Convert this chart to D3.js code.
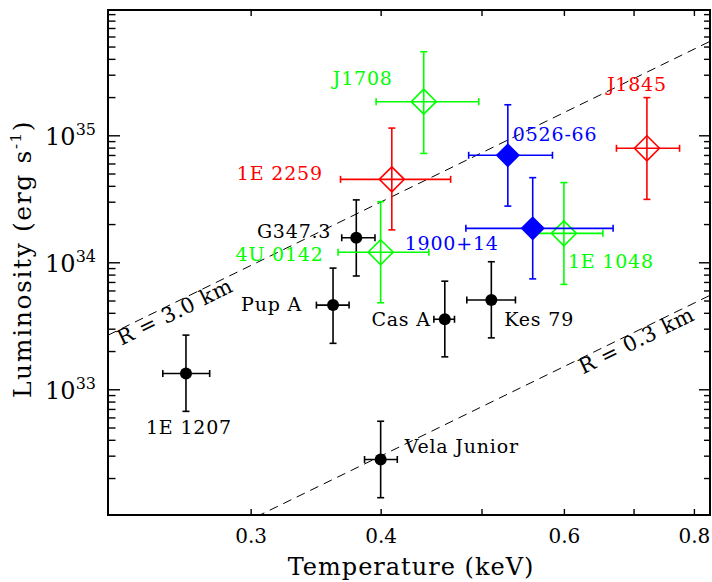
<!DOCTYPE html>
<html>
<head>
<meta charset="utf-8">
<script src="https://cdn.jsdelivr.net/npm/d3@7"></script>
<style>
  body { margin: 0; background: #fff; }
  text { font-family: "DejaVu Serif", serif; }
</style>
</head>
<body>
<div id="container"></div>
<script>
//sources, black ones (CCOs) first, blue (SGRs) last so they sit on top
const names  = ['1E 1207', 'Pup A', 'G347.3', 'Cas A', 'Kes 79', 'Vela Junior',
                '4U 0142', '1E 2259', 'J1708', '1E 1048', 'J1845', '0526-66', '1900+14']
const group  = ['cco', 'cco', 'cco', 'cco', 'cco', 'cco',
                'axpG', 'axpR', 'axpG', 'axpG', 'axpR', 'sgr', 'sgr']

//temperature (keV) with error range
const temp   = [0.260, 0.360, 0.379, 0.461, 0.511, 0.400, 0.400, 0.410, 0.440, 0.600, 0.721, 0.530, 0.560]
const tempLo = [0.247, 0.347, 0.367, 0.450, 0.484, 0.386, 0.364, 0.366, 0.396, 0.562, 0.674, 0.486, 0.483]
const tempHi = [0.274, 0.373, 0.395, 0.471, 0.539, 0.415, 0.445, 0.467, 0.497, 0.654, 0.775, 0.585, 0.669]

//luminosity (erg/s) with error range
const lum    = [1.33e33, 4.6e33, 1.56e34, 3.56e33, 5.05e33, 2.8e32, 1.2e34, 4.5e34, 1.84e35, 1.69e34, 7.9e34, 6.96e34, 1.85e34]
const lumLo  = [6.7e32, 2.3e33, 7.8e33, 1.8e33, 2.54e33, 1.4e32, 4.8e33, 1.8e34, 7.2e34, 6.7e33, 3.13e34, 2.77e34, 7.4e33]
const lumHi  = [2.67e33, 9.0e33, 3.1e34, 7.1e33, 1.01e34, 5.6e32, 3.0e34, 1.14e35, 4.55e35, 4.24e34, 1.98e35, 1.74e35, 4.64e34]

//axis ticks
const xTicks = [0.3, 0.4, 0.5, 0.6, 0.7, 0.8]
const xTickLabels = ['0.3', '0.4', '', '0.6', '', '0.8']
const yLabelExps = [33, 34, 35]

//blackbody emitting radius lines (km)
const radii = [3.0, 0.3]
const radiusLabels = ['R = 3.0 km', 'R = 0.3 km']

//layout, not data: label offsets from the point [dx, dy, anchor]
const labelPos = {
  '1E 1207': [3, 60, 'middle'],
  'Pup A': [-31, 6, 'end'],
  'G347.3': [-25, 0, 'end'],
  'Cas A': [-14, 7, 'end'],
  'Kes 79': [13, 26, 'start'],
  'Vela Junior': [24, -6, 'start'],
  '4U 0142': [-57, 9, 'end'],
  '1E 2259': [-69, 1, 'end'],
  'J1708': [-31, -17, 'end'],
  '1E 1048': [4, 35, 'start'],
  'J1845': [-10, -57, 'middle'],
  '0526-66': [5, -14, 'start'],
  '1900+14': [-34, 22, 'end']
}
const radiusLabelT = [0.2221, 0.6167]

const color = {cco: '#000', axpG: '#00ff00', axpR: '#ff0000', sgr: '#0000ff'}

//svg size
const w = 712
const h = 582
const pLeft = 108, pRight = 710, pTop = 10, pBottom = 515

const svg = d3.select('#container')
    .append('svg')
    .attr('width', w)
    .attr('height', h)

const x = d3.scaleLog()
    .domain([0.2188, 0.829])
    .range([pLeft, pRight])

const y = d3.scaleLog()
    .domain([1.023e32, 9.7e35])
    .range([pBottom, pTop])

//all 1..9 x 10^k ticks inside the y range
const yTicks = []
for (let k = 32; k <= 35; k++) {
  for (let m = 1; m <= 9; m++) {
    const v = m * Math.pow(10, k)
    if (v >= y.domain()[0] && v <= y.domain()[1]) yTicks.push(v)
  }
}
const isMajor = d => Math.abs(Math.log10(d) - Math.round(Math.log10(d))) < 1e-6

//left axis
const gy = svg.append('g')
    .attr('transform', 'translate(' + pLeft + ',0)')
    .call(d3.axisLeft(y).tickValues(yTicks).tickSizeInner(-12).tickSizeOuter(0).tickPadding(12).tickFormat(''))
gy.selectAll('.tick line')
    .attr('x2', d => isMajor(d) ? 12 : 7.5)
    .attr('stroke-width', 1.4)
gy.selectAll('.tick text')
    .attr('font-family', '"Liberation Sans", Arial, sans-serif')
    .attr('font-size', 24)
    .attr('dy', '0.4em')
    .each(function(d) {
      const e = Math.round(Math.log10(d))
      if (!isMajor(d) || yLabelExps.indexOf(e) < 0) return
      const t = d3.select(this)
      t.append('tspan').text('10')
      t.append('tspan').attr('font-size', 16).attr('dy', -10).text(e)
    })

//right axis
const gr = svg.append('g')
    .attr('transform', 'translate(' + pRight + ',0)')
    .call(d3.axisRight(y).tickValues(yTicks).tickSizeInner(-12).tickSizeOuter(0).tickFormat(''))
gr.selectAll('.tick line')
    .attr('x2', d => isMajor(d) ? -11 : -6)
    .attr('stroke-width', 1.4)

//bottom axis
const gx = svg.append('g')
    .attr('transform', 'translate(0,' + pBottom + ')')
    .call(d3.axisBottom(x).tickValues(xTicks).tickSizeInner(-6).tickSizeOuter(0).tickPadding(14)
      .tickFormat((d, i) => xTickLabels[i]))
gx.selectAll('.tick line').attr('stroke-width', 1.4)
gx.selectAll('.tick text')
    .attr('font-family', '"Liberation Sans", Arial, sans-serif')
    .attr('font-size', 20)

//top axis
const gt = svg.append('g')
    .attr('transform', 'translate(0,' + pTop + ')')
    .call(d3.axisTop(x).tickValues(xTicks).tickSizeInner(-6).tickSizeOuter(0).tickFormat(''))
gt.selectAll('.tick line').attr('stroke-width', 1.4)

svg.selectAll('.domain').remove()

//frame
svg.append('rect')
    .attr('x', pLeft)
    .attr('y', pTop)
    .attr('width', pRight - pLeft)
    .attr('height', pBottom - pTop)
    .attr('fill', 'none')
    .attr('stroke', '#000')
    .attr('stroke-width', 2)

//axis titles
svg.append('text')
    .attr('x', 411)
    .attr('y', 575)
    .attr('text-anchor', 'middle')
    .attr('font-size', 24)
    .attr('letter-spacing', 1)
    .text('Temperature (keV)')

const yt = svg.append('text')
    .attr('transform', 'translate(31,259) rotate(-90)')
    .attr('text-anchor', 'middle')
    .attr('font-size', 25)
    .attr('letter-spacing', 1.6)
yt.append('tspan').text('Luminosity (erg s')
yt.append('tspan').attr('font-size', 15).attr('dy', -10).text('-1')
yt.append('tspan').attr('dy', 10).text(')')

//L = 4 pi R^2 sigma T^4
const sigma = 5.6704e-5
const keV = 1.16045e7
const lumFor = (rKm, t) => 4 * Math.PI * Math.pow(rKm * 1e5, 2) * sigma * Math.pow(t * keV, 4)

svg.append('clipPath')
    .attr('id', 'plotClip')
    .append('rect')
    .attr('x', pLeft)
    .attr('y', pTop)
    .attr('width', pRight - pLeft)
    .attr('height', pBottom - pTop)

const line = d3.line()
    .x(d => x(d[0]))
    .y(d => y(d[1]))

radii.forEach(function(r, i) {
  const ends = x.domain().map(t => [t, lumFor(r, t)])
  svg.append('path')
      .attr('d', line(ends))
      .attr('clip-path', 'url(#plotClip)')
      .attr('fill', 'none')
      .attr('stroke', '#000')
      .attr('stroke-width', 1)
      .attr('stroke-dasharray', '9,6')

  const p0 = [x(ends[0][0]), y(ends[0][1])]
  const p1 = [x(ends[1][0]), y(ends[1][1])]
  const angle = Math.atan2(p1[1] - p0[1], p1[0] - p0[0]) * 180 / Math.PI
  const t0 = radiusLabelT[i]
  svg.append('text')
      .attr('transform', 'translate(' + x(t0) + ',' + y(lumFor(r, t0)) + ') rotate(' + angle + ')')
      .attr('y', 15.5)
      .attr('font-size', 21)
      .attr('letter-spacing', 0.6)
      .text(radiusLabels[i])
})

//error bars and markers
const cap = 3.5
const marks = svg.append('g')

names.forEach(function(name, i) {
  const c = color[group[i]]
  const cx = x(temp[i])
  const cy = y(lum[i])
  const g = marks.append('g')
      .attr('stroke', c)
      .attr('stroke-width', 1.6)
      .attr('fill', 'none')

  //horizontal bar with caps
  g.append('line').attr('x1', x(tempLo[i])).attr('x2', x(tempHi[i])).attr('y1', cy).attr('y2', cy)
  g.append('line').attr('x1', x(tempLo[i])).attr('x2', x(tempLo[i])).attr('y1', cy - cap).attr('y2', cy + cap)
  g.append('line').attr('x1', x(tempHi[i])).attr('x2', x(tempHi[i])).attr('y1', cy - cap).attr('y2', cy + cap)

  //vertical bar with caps
  g.append('line').attr('x1', cx).attr('x2', cx).attr('y1', y(lumLo[i])).attr('y2', y(lumHi[i]))
  g.append('line').attr('x1', cx - cap).attr('x2', cx + cap).attr('y1', y(lumLo[i])).attr('y2', y(lumLo[i]))
  g.append('line').attr('x1', cx - cap).attr('x2', cx + cap).attr('y1', y(lumHi[i])).attr('y2', y(lumHi[i]))

  if (group[i] === 'cco') {
    g.append('circle')
        .attr('cx', cx)
        .attr('cy', cy)
        .attr('r', 6)
        .attr('fill', c)
        .attr('stroke', 'none')
  } else {
    const s = group[i] === 'sgr' ? 11 : 12.5
    g.append('path')
        .attr('d', 'M' + cx + ',' + (cy - s) + 'L' + (cx + s) + ',' + cy + 'L' + cx + ',' + (cy + s) + 'L' + (cx - s) + ',' + cy + 'Z')
        .attr('fill', group[i] === 'sgr' ? c : 'none')
  }

  const lp = labelPos[name]
  svg.append('text')
      .attr('x', cx + lp[0])
      .attr('y', cy + lp[1])
      .attr('text-anchor', lp[2])
      .attr('font-size', 19)
      .attr('letter-spacing', 0.8)
      .attr('fill', c)
      .text(name)
})
</script>
</body>
</html>
